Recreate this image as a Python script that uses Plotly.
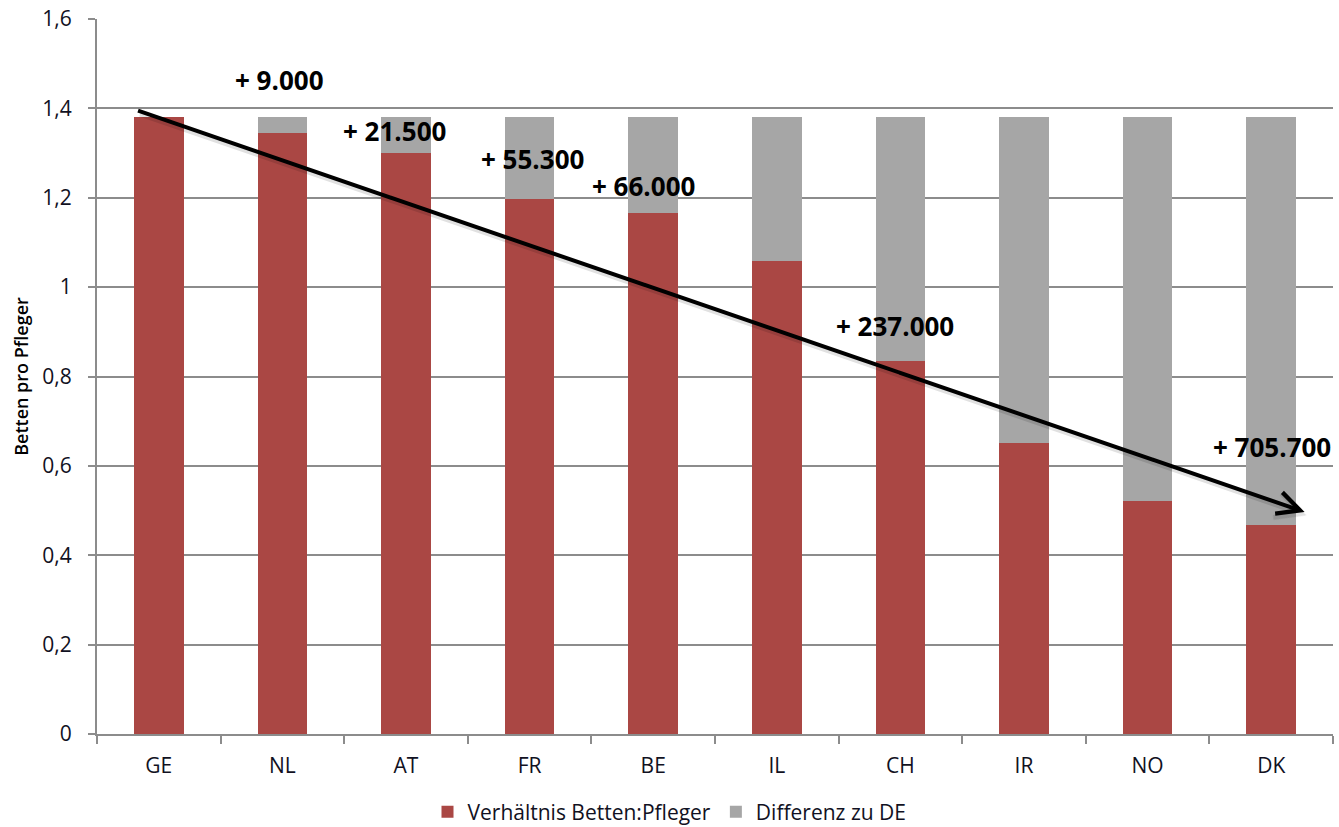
import plotly.graph_objects as go

# Länder und Verhältnis Betten pro Pfleger
countries = ["GE", "NL", "AT", "FR", "BE", "IL", "CH", "IR", "NO", "DK"]
ratio = [1.38, 1.345, 1.30, 1.197, 1.166, 1.058, 0.835, 0.651, 0.521, 0.468]
reference_level = 1.38  # Niveau Deutschland
difference = [round(reference_level - r, 3) for r in ratio]

# Zusätzlich benötigte Pflegekräfte (Beschriftungen)
extra_labels = ["+ 9.000", "+ 21.500", "+ 55.300", "+ 66.000", "+ 237.000", "+ 705.700"]
extra_x = [0.98, 1.91, 3.02, 3.92, 5.96, 9.01]
extra_y = [1.463, 1.349, 1.287, 1.226, 0.913, 0.642]

# Trendpfeil (Start/Ende in Achsenkoordinaten)
arrow_start = (-0.18, 1.396)
arrow_end = (9.27, 0.497)

RED = "#AA4744"
GREY = "#A6A6A6"
AXIS = "#8C8C8C"
FONT = "'Open Sans', Lato, sans-serif"
TXT = "#111122"

x_idx = list(range(len(countries)))

fig = go.Figure()
fig.add_trace(go.Bar(
    x=x_idx, y=ratio, name="Verhältnis Betten:Pfleger",
    marker=dict(color=RED, line=dict(width=0)), width=0.4,
))
fig.add_trace(go.Bar(
    x=x_idx, y=difference, name="Differenz zu DE",
    marker=dict(color=GREY, line=dict(width=0)), width=0.4,
))

annotations = []
for lbl, ax_, ay_ in zip(extra_labels, extra_x, extra_y):
    annotations.append(dict(
        x=ax_, y=ay_, xref="x", yref="y", text=lbl, showarrow=False,
        font=dict(family=FONT, size=26, color="#000000", weight="bold"),
        xanchor="center", yanchor="middle",
    ))

# leichter Schatten unter dem Pfeil
annotations.append(dict(
    x=arrow_end[0] + 0.015, y=arrow_end[1] - 0.008,
    ax=arrow_start[0] + 0.015, ay=arrow_start[1] - 0.008,
    xref="x", yref="y", axref="x", ayref="y",
    text="", showarrow=True, arrowhead=5, arrowsize=1.1, arrowwidth=4.5,
    arrowcolor="rgba(0,0,0,0.12)", standoff=0, startstandoff=0,
))
annotations.append(dict(
    x=arrow_end[0], y=arrow_end[1], ax=arrow_start[0], ay=arrow_start[1],
    xref="x", yref="y", axref="x", ayref="y",
    text="", showarrow=True, arrowhead=5, arrowsize=1.1, arrowwidth=4,
    arrowcolor="#000000", standoff=0, startstandoff=0,
))

fig.update_layout(
    barmode="stack",
    width=1339, height=827,
    margin=dict(l=97, r=6, t=19, b=93, autoexpand=False),
    paper_bgcolor="white", plot_bgcolor="white",
    separators=",.",
    font=dict(family=FONT, size=22, color=TXT),
    bargap=0.6,
    showlegend=True,
    legend=dict(
        orientation="h", traceorder="normal",
        x=0.5, xanchor="center", xref="container",
        y=15 / 827, yanchor="middle", yref="container",
        font=dict(family=FONT, size=21, color=TXT),
        itemwidth=30, tracegroupgap=0,
    ),
    annotations=annotations,
)

fig.update_xaxes(
    tickmode="array", tickvals=x_idx, ticktext=countries,
    range=[-0.5, len(countries) - 0.5],
    showline=True, linecolor=AXIS, linewidth=2,
    ticks="", showgrid=False, zeroline=False,
    ticklabelstandoff=12,
    tickfont=dict(family=FONT, size=21, color=TXT),
    minor=dict(tickmode="array",
               tickvals=[i - 0.5 for i in range(len(countries) + 1)],
               ticks="outside", ticklen=8, tickcolor=AXIS, tickwidth=2),
)

fig.update_yaxes(
    range=[0, 1.6], dtick=0.2, tick0=0,
    showline=True, linecolor=AXIS, linewidth=2,
    showgrid=True, gridcolor=AXIS, gridwidth=2,
    zeroline=False,
    ticks="outside", ticklen=7, tickcolor=AXIS, tickwidth=2,
    ticklabelstandoff=12,
    tickfont=dict(family=FONT, size=21, color=TXT),
    title=dict(text="Betten pro Pfleger", standoff=9,
               font=dict(family=FONT, size=18, color="#000000", weight=600)),
)

fig.write_html("out.html")
